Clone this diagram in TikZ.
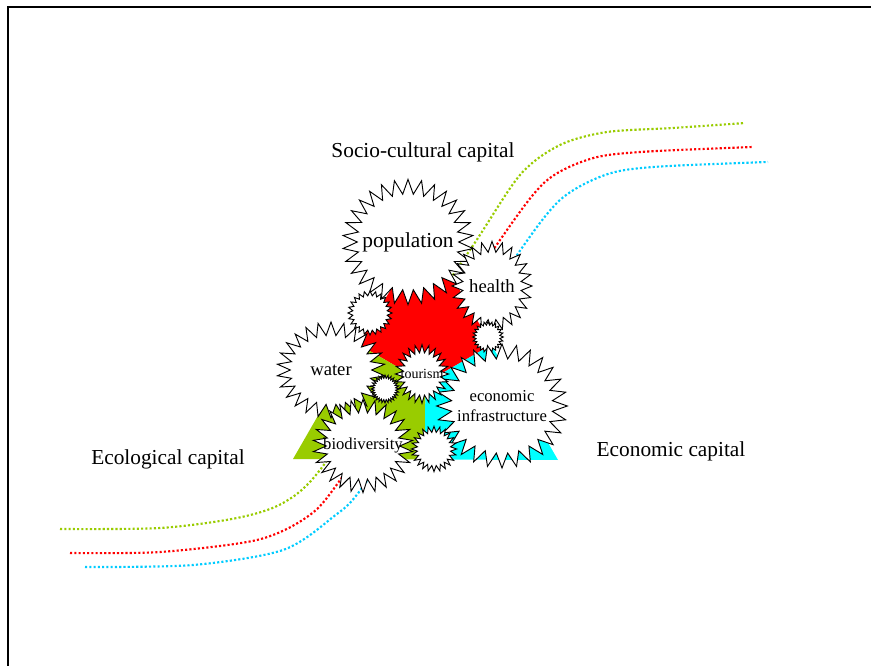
\documentclass[tikz,border=0pt]{standalone}
\usepackage{fontspec}
\setmainfont{Liberation Serif}
\usetikzlibrary{shapes.symbols, calc}
\definecolor{capgreen}{RGB}{153, 204, 0}
\definecolor{capred}{RGB}{255, 0, 0}
\definecolor{capcyan}{RGB}{0, 255, 255}
\definecolor{linecyan}{RGB}{0, 204, 255}

\tikzset{
  burst/.style={starburst, random starburst=0, draw=black, fill=white,
    line width=0.7pt, inner sep=0pt, align=center},
  gear/.style={burst, starburst points=24, starburst point height=3pt},
  capline/.style={line width=1.6pt, dash pattern=on 1.6pt off 1.6pt},
  caplabel/.style={font=\fontsize{16}{19}\selectfont},
}

\begin{document}
\begin{tikzpicture}[x=0.75pt, y=-0.75pt]
\useasboundingbox (0,0) rectangle (871,666);
\fill[white] (0,0) rectangle (871,666);

% Frame
\draw[line width=1.4pt] (8,666) -- (8,7) -- (871,7);

% Capital curves
\draw[capline, capgreen] plot[smooth] coordinates {(60,529) (160,528) (237,518) (283,503) (320,470) (396,358) (472,247) (520,175) (560,145) (607,132) (673,128) (745,123)};
\draw[capline, capred] plot[smooth] coordinates {(70,553) (160,552) (257,540) (307,517) (338,483) (419,362) (500,240) (545,182) (590,159) (640,152) (753,147)};
\draw[capline, linecyan] plot[smooth] coordinates {(85,567) (193,565) (283,550) (333,517) (362,488) (440,372) (517,255) (560,200) (605,175) (653,167) (768,162)};

% Capital triangle
\coordinate (A) at (293,459);
\coordinate (B) at (558,460);
\coordinate (C) at (425,230);
\coordinate (G) at ($1/3*(A)+1/3*(B)+1/3*(C)$);
\coordinate (ac) at ($(A)!(G)!(C)$);
\coordinate (bc) at ($(B)!(G)!(C)$);
\coordinate (ab) at ($(A)!(G)!(B)$);
\fill[capred] (C) -- (ac) -- (G) -- (bc) -- cycle;
\fill[capgreen] (A) -- (ab) -- (G) -- (ac) -- cycle;
\fill[capcyan] (B) -- (bc) -- (G) -- (ab) -- cycle;

% Stocks
\node[burst, minimum width=98pt, minimum height=94pt, starburst points=30,
  starburst point height=11pt,
  label={[font=\fontsize{16}{18}\selectfont]center:population}] (population) at (408,242) {};
\node[burst, minimum width=60pt, minimum height=67pt, starburst points=24,
  starburst point height=8pt,
  label={[font=\fontsize{14}{16}\selectfont]center:health}] (health) at (492,286) {};
\node[gear, minimum size=23pt, starburst point height=2.5pt] (gearR) at (488,337) {};
\node[gear, minimum size=33pt, starburst point height=3.5pt] (gearL) at (370,313) {};
\node[burst, minimum width=81pt, minimum height=72pt, starburst points=26,
  starburst point height=10pt,
  label={[font=\fontsize{14}{16}\selectfont]center:water}] (water) at (331,370) {};
\node[burst, minimum width=98pt, minimum height=93pt, starburst points=28,
  starburst point height=11pt,
  label={[font=\fontsize{12.5}{15}\selectfont, align=center]center:economic\\infrastructure}] (infra) at (502,406) {};
\node[gear, minimum size=21pt, starburst points=28, starburst point height=2.5pt] (gearM) at (385,389) {};
\node[burst, minimum width=40pt, minimum height=44pt, starburst points=24,
  starburst point height=6pt,
  label={[font=\fontsize{10.5}{12}\selectfont]center:tourism}] (tourism) at (422,374) {};
\node[burst, minimum width=75pt, minimum height=70pt, starburst points=26,
  starburst point height=10pt,
  label={[font=\fontsize{12.5}{15}\selectfont]center:biodiversity}] (biodiversity) at (363,446) {};
\node[gear, minimum size=34pt, starburst point height=4.5pt] (gearB) at (434,449) {};

% Capital labels
\node[caplabel] (socio) at (423,152) {Socio-cultural capital};
\node[caplabel] (eco) at (168,459) {Ecological capital};
\node[caplabel] (econ) at (671,451) {Economic capital};
\end{tikzpicture}
\end{document}
